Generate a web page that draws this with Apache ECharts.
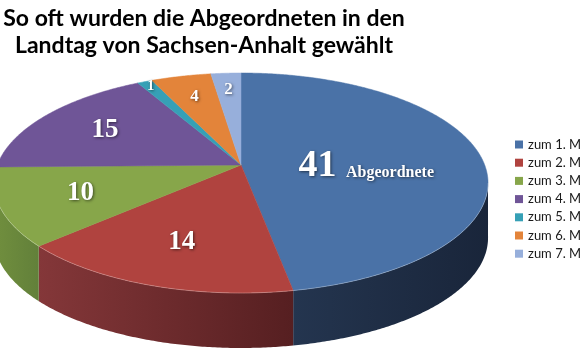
<!DOCTYPE html>
<html>
<head>
<meta charset="utf-8">
<script src="https://cdn.jsdelivr.net/npm/echarts@6/dist/echarts.min.js"></script>
<style>html,body{margin:0;padding:0;background:#fff;}#c{width:580px;height:357px;}</style>
</head>
<body>
<div id="c"></div>
<script>
const titleLines = ['So oft wurden die Abgeordneten in den', 'Landtag von Sachsen-Anhalt gewählt'];
const categories = ['zum 1. Mal', 'zum 2. Mal', 'zum 3. Mal', 'zum 4. Mal', 'zum 5. Mal', 'zum 6. Mal', 'zum 7. Mal'];
const values = [41, 14, 10, 15, 1, 4, 2];
const unitLabel = 'Abgeordnete';

const topColors = ['#4a72a7', '#b0433f', '#87a64a', '#6f5597', '#36a0b6', '#e3843a', '#97afdb'];
const sideColors = [['#24354f', '#19253a'], ['#843739', '#561f21'], ['#718f3e', '#62803a'], ['#4e3b6c', '#3c2d55'], ['#26717f', '#1d5a66'], ['#a55f29', '#8a4e21'], ['#6d80a0', '#5a6b88']];

// projection of the tilted disc (perspective)
const CX = 241, CY = 165, MX = 243.7, KY = 107.05, P = 0.1636, THICK = 55;
const total = values.reduce((a, b) => a + b, 0);
const starts = [];
values.reduce((acc, v, i) => { starts[i] = acc; return acc + v; }, 0);

function proj(deg, r, dz) {
  const t = deg * Math.PI / 180;
  const x = r * Math.sin(t), y = r * Math.cos(t);
  const w = 1 + P * y;
  return [CX + MX * x / w, CY - KY * y / w + (dz || 0)];
}
function arcPts(a, b, r, dz) {
  const pts = [];
  const n = Math.max(2, Math.ceil(Math.abs(b - a) / 0.5));
  for (let j = 0; j <= n; j++) pts.push(proj(a + (b - a) * j / n, r, dz));
  return pts;
}
const visA = Math.acos(-P) * 180 / Math.PI, visB = 360 - visA;

function labelRadius(v) {
  const s = v / total;
  if (s > 0.3) return 0.52;
  if (s > 0.08) return 0.68;
  if (s > 0.035) return 0.75;
  if (s > 0.015) return 0.8;
  return 0.93;
}
function labelSize(v) {
  const s = v / total;
  if (s > 0.3) return 38;
  if (s > 0.08) return 27;
  if (s > 0.015) return 17;
  return 14;
}

function renderItem(params, api) {
  const i = params.dataIndex;
  const v = api.value(0);
  const a = starts[i] / total * 360, b = (starts[i] + v) / total * 360;
  const children = [];
  const sa = Math.max(a, visA), sb = Math.min(b, visB);
  if (sb > sa) {
    const topEdge = arcPts(sa, sb, 1, 0);
    const botEdge = arcPts(sa, sb, 1, THICK).reverse();
    children.push({
      type: 'polygon', z2: 1,
      shape: { points: topEdge.concat(botEdge) },
      style: { fill: new echarts.graphic.LinearGradient(0, 0, 1, 0, [
        { offset: 0, color: sideColors[i][0] }, { offset: 1, color: sideColors[i][1] }]) , stroke: null }
    });
  }
  const top = [proj(0, 0, 0)].concat(arcPts(a, b, 1, 0));
  children.push({
    type: 'polygon', z2: 5,
    shape: { points: top },
    style: { fill: topColors[i], stroke: topColors[i], lineWidth: 0.5 }
  });
  if (sb > sa) {
    children.push({
      type: 'polyline', z2: 6,
      shape: { points: arcPts(sa, sb, 1, 0) },
      style: { stroke: 'rgba(255,255,255,0.25)', lineWidth: 1, fill: null }
    });
  }
  const mid = (a + b) / 2;
  const lp = proj(mid, labelRadius(v), 0);
  const fs = labelSize(v);
  const shadow = { textShadowColor: 'rgba(0,0,0,0.55)', textShadowBlur: 3, textShadowOffsetX: 1, textShadowOffsetY: 1 };
  const isMain = v / total > 0.3;
  children.push({
    type: 'text', z2: 10,
    x: lp[0], y: lp[1] + (isMain ? 6 : 0),
    style: Object.assign({
      text: isMain ? '{b|' + v + '} {s|' + unitLabel + '}' : String(v),
      fill: '#fff',
      font: 'bold ' + fs + 'px "Liberation Serif", "Times New Roman", serif',
      align: 'center', verticalAlign: 'middle',
      rich: isMain ? {
        b: Object.assign({ fill: '#fff', font: 'bold 38px "Liberation Serif", serif', verticalAlign: 'bottom' }, shadow),
        s: Object.assign({ fill: '#fff', font: 'bold 16px "Liberation Serif", serif', verticalAlign: 'bottom', padding: [0, 0, 4, 0] }, shadow)
      } : undefined
    }, shadow)
  });
  return { type: 'group', children: children };
}

const chart = echarts.init(document.getElementById('c'), null, { renderer: 'canvas' });
chart.setOption({
  animation: false,
  backgroundColor: '#ffffff',
  title: {
    text: titleLines.join('\n'),
    left: 204, top: 5, textAlign: 'center', padding: 0,
    textStyle: { fontFamily: 'Lato', fontWeight: 'bold', fontSize: 23, lineHeight: 27, color: '#000' }
  },
  legend: {
    orient: 'vertical', left: 515, top: 138, padding: 0,
    itemWidth: 8, itemHeight: 8, itemGap: 5.2, itemTextGap: 3,
    icon: 'rect', selectedMode: false,
    textStyle: { fontFamily: 'Lato', fontSize: 13, color: '#1a1a1a' },
    data: categories
  },
  series: [
    {
      type: 'custom', coordinateSystem: 'none', silent: true,
      data: values.map((v, i) => ({ name: categories[i], value: v })),
      renderItem: renderItem
    },
    {
      type: 'pie', radius: [0, 0], center: [CX, CY], silent: true,
      label: { show: false }, labelLine: { show: false },
      data: values.map((v, i) => ({ name: categories[i], value: v, itemStyle: { color: topColors[i] } }))
    }
  ]
});
</script>
</body>
</html>
